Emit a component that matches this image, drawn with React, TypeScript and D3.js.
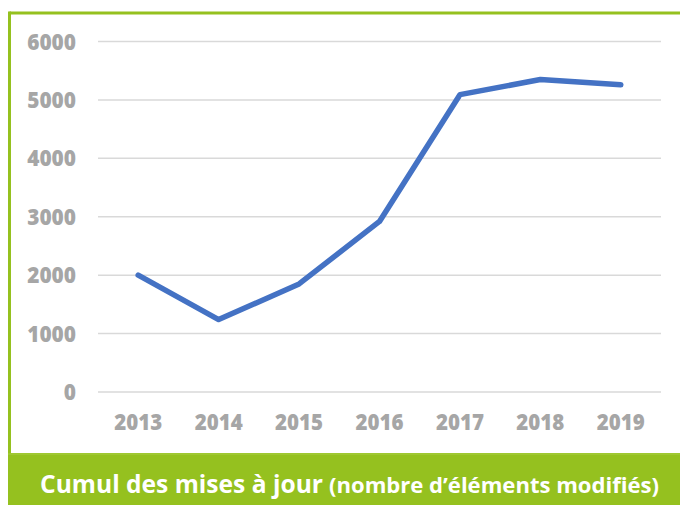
import React from "react";
import * as d3 from "d3";

const years = ["2013", "2014", "2015", "2016", "2017", "2018", "2019"];
const values = [2000, 1240, 1850, 2920, 5090, 5350, 5260];
const yTicks = [0, 1000, 2000, 3000, 4000, 5000, 6000];
const titleMain = "Cumul des mises à jour";
const titleSub = "(nombre d’éléments modifiés)";

const W = 680;
const H = 505;
const GREEN = "#95c11f";
const GRAY = "#a6a6a6";

export default function App() {
  const x = d3.scalePoint<string>().domain(years).range([98, 661]).padding(0.5);
  const y = d3.scaleLinear().domain([0, 6000]).range([392, 41.5]);
  const line = d3
    .line<number>()
    .x((_, i) => x(years[i]) as number)
    .y((d) => y(d));

  return (
    <svg
      width={W}
      height={H}
      style={{ position: "absolute", left: 0, top: 0 }}
      fontFamily="'Open Sans', sans-serif"
    >
      <rect x={0} y={0} width={W} height={H} fill="#fff" />
      {/* border */}
      <line x1={9.5} x2={W} y1={13} y2={13} stroke={GREEN} strokeWidth={3} />
      <line x1={9.5} x2={9.5} y1={11.5} y2={455} stroke={GREEN} strokeWidth={3} />
      {/* gridlines */}
      {yTicks.map((t) => (
        <line key={t} x1={98} x2={661} y1={y(t)} y2={y(t)} stroke="#d9d9d9" strokeWidth={1.5} />
      ))}
      {yTicks.map((t) => (
        <text
          key={"l" + t}
          x={76}
          y={y(t)}
          dy="0.37em"
          textAnchor="end"
          fontSize={22}
          fontWeight={800}
          fill={GRAY}
          textLength={String(t).length * 12.2}
          lengthAdjust="spacingAndGlyphs"
        >
          {t}
        </text>
      ))}
      {years.map((yr) => (
        <text
          key={yr}
          x={(x(yr) as number) - 24}
          y={422}
          dy="0.37em"
          fontSize={22}
          fontWeight={800}
          fill={GRAY}
          textLength={48}
          lengthAdjust="spacingAndGlyphs"
        >
          {yr}
        </text>
      ))}
      <path
        d={line(values) || ""}
        fill="none"
        stroke="#4472c4"
        strokeWidth={5.5}
        strokeLinecap="round"
        strokeLinejoin="round"
      />
      {/* bottom band */}
      <rect x={8} y={453} width={W - 8} height={H - 453} fill={GREEN} />
      <line x1={8} x2={W} y1={454} y2={454} stroke="#a9cf45" strokeWidth={1} />
      <text x={40} y={493} fill="#fff" fontWeight={700}>
        <tspan fontSize={25} textLength={283} lengthAdjust="spacingAndGlyphs">{titleMain}</tspan>
      </text>
      <text x={329} y={493} fill="#fff" fontWeight={700}>
        <tspan fontSize={20.5} textLength={330} lengthAdjust="spacingAndGlyphs">{titleSub}</tspan>
      </text>
    </svg>
  );
}
